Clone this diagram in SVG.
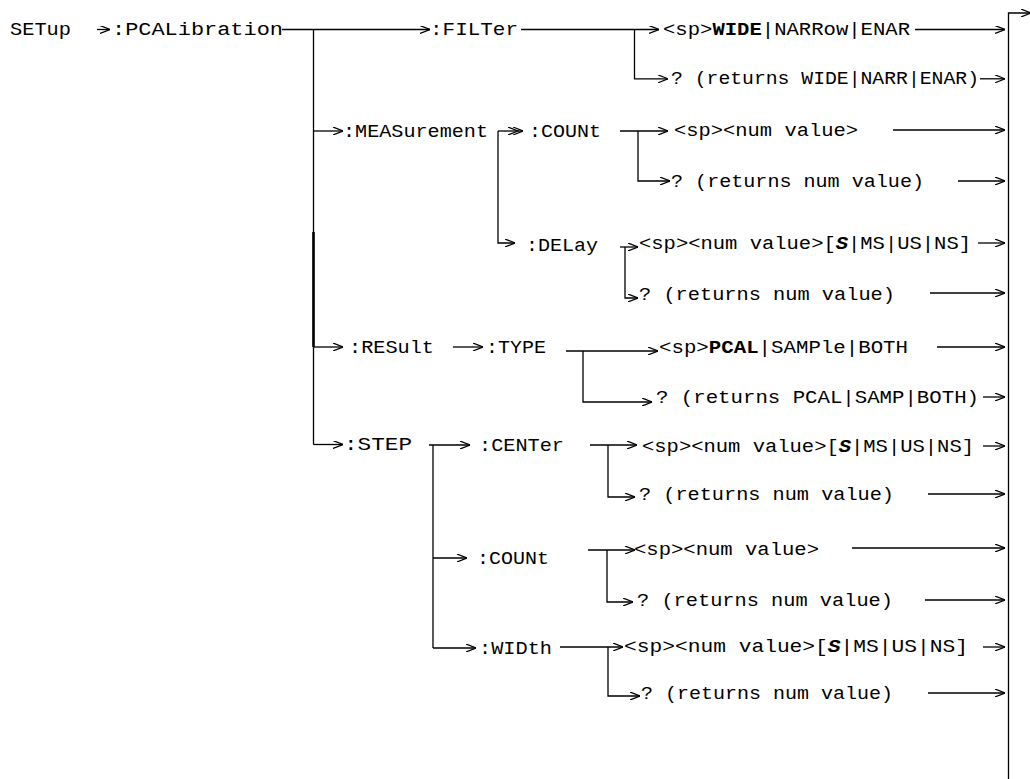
<svg xmlns="http://www.w3.org/2000/svg" width="1030" height="779" viewBox="0 0 1030 779">
<style>
text{font-family:"Courier New","Liberation Mono",monospace;font-size:18px;fill:#000}
.b{font-weight:bold}
.bi{font-weight:bold;font-style:italic}
.c line,.c path{stroke:#000;stroke-width:1.3;fill:none}
.a{marker-end:url(#ah)}
.d{marker-end:url(#dh)}
</style>
<defs>
<marker id="ah" viewBox="0 0 10 8" refX="10" refY="4" markerWidth="10" markerHeight="8" markerUnits="userSpaceOnUse" orient="auto">
<path d="M0,0 L10,4 L0,8" fill="none" stroke="#000" stroke-width="1.2"/>
</marker>
<marker id="dh" viewBox="0 0 15 8" refX="15" refY="4" markerWidth="15" markerHeight="8" markerUnits="userSpaceOnUse" orient="auto">
<path d="M0,0 L10,4 L0,8 M5,0 L15,4 L5,8" fill="none" stroke="#000" stroke-width="1.2"/>
</marker>
</defs>
<rect width="1030" height="779" fill="#fff"/>
<g class="c" id="connectors">
<line class="a" x1="97" y1="29.5" x2="110" y2="29.5"/>
<line class="a" x1="282" y1="29.5" x2="430" y2="29.5"/>
<line x1="313.5" y1="29.5" x2="313.5" y2="444.5"/>
<line x1="313.5" y1="232" x2="313.5" y2="347" style="stroke-width:2.6"/>
<line class="a" x1="313.5" y1="131" x2="343" y2="131"/>
<line class="a" x1="313.5" y1="347" x2="343" y2="347"/>
<line class="a" x1="313.5" y1="444.5" x2="343" y2="444.5"/>
<line class="a" x1="521" y1="29.5" x2="659" y2="29.5"/>
<path class="a" d="M634.5,29.5 V78.8 H668"/>
<line class="a" x1="915" y1="29.5" x2="1005" y2="29.5"/>
<line class="a" x1="980" y1="78.8" x2="1005" y2="78.8"/>
<line class="d" x1="498" y1="131" x2="523" y2="131"/>
<path class="a" d="M498,131 V243 H515"/>
<line class="a" x1="620" y1="131" x2="668" y2="131"/>
<path class="a" d="M638,131 V181 H670"/>
<line class="a" x1="893" y1="130" x2="1005" y2="130"/>
<line class="a" x1="958" y1="181" x2="1005" y2="181"/>
<line class="a" x1="620" y1="247" x2="638" y2="247"/>
<path class="a" d="M625,247 V298 H638"/>
<line class="a" x1="978" y1="243" x2="1005" y2="243"/>
<line class="a" x1="930" y1="293" x2="1005" y2="293"/>
<line class="a" x1="453" y1="347" x2="483" y2="347"/>
<line class="a" x1="566" y1="351" x2="658" y2="351"/>
<path class="a" d="M583,351 V402 H652"/>
<line class="a" x1="937" y1="347" x2="1005" y2="347"/>
<line class="a" x1="983" y1="397" x2="1005" y2="397"/>
<line class="a" x1="429" y1="445" x2="470" y2="445"/>
<line x1="433" y1="445" x2="433" y2="648"/>
<line class="a" x1="433" y1="558" x2="467" y2="558"/>
<line class="a" x1="433" y1="648" x2="476" y2="648"/>
<line class="a" x1="590" y1="445" x2="637" y2="445"/>
<path class="a" d="M608,445 V497 H635"/>
<line class="a" x1="983" y1="446" x2="1005" y2="446"/>
<line class="a" x1="928" y1="494" x2="1005" y2="494"/>
<line class="a" x1="588" y1="550" x2="635" y2="550"/>
<path class="a" d="M607,550 V602 H633"/>
<line class="a" x1="852" y1="548" x2="1005" y2="548"/>
<line class="a" x1="925" y1="600" x2="1005" y2="600"/>
<line class="a" x1="560" y1="647" x2="623" y2="647"/>
<path class="a" d="M608,647 V696 H640"/>
<line class="a" x1="983" y1="647" x2="1005" y2="647"/>
<line class="a" x1="928" y1="693" x2="1005" y2="693"/>
<path class="a" d="M1008.5,779 V13 H1031"/>
</g>
<g id="n-setup"><text x="10" y="35" textLength="61" lengthAdjust="spacingAndGlyphs">SETup</text></g>
<g id="n-pcal"><text x="112" y="35" textLength="171" lengthAdjust="spacingAndGlyphs">:PCALibration</text></g>
<g id="n-filter"><text x="430" y="35" textLength="88" lengthAdjust="spacingAndGlyphs">:FILTer</text></g>
<g id="n-filter-set"><text x="663" y="35" textLength="247" lengthAdjust="spacingAndGlyphs">&lt;sp&gt;<tspan class="b">WIDE</tspan>|NARRow|ENAR</text></g>
<g id="n-filter-q"><text x="671" y="84" textLength="308" lengthAdjust="spacingAndGlyphs">? (returns WIDE|NARR|ENAR)</text></g>
<g id="n-meas"><text x="343" y="137" textLength="145" lengthAdjust="spacingAndGlyphs">:MEASurement</text></g>
<g id="n-meas-count"><text x="529" y="137" textLength="72" lengthAdjust="spacingAndGlyphs">:COUNt</text></g>
<g id="n-meas-count-set"><text x="674" y="136" textLength="184" lengthAdjust="spacingAndGlyphs">&lt;sp&gt;&lt;num value&gt;</text></g>
<g id="n-meas-count-q"><text x="671" y="187" textLength="253" lengthAdjust="spacingAndGlyphs">? (returns num value)</text></g>
<g id="n-meas-delay"><text x="526" y="251" textLength="72" lengthAdjust="spacingAndGlyphs">:DELay</text></g>
<g id="n-meas-delay-set"><text x="639" y="249" textLength="332" lengthAdjust="spacingAndGlyphs">&lt;sp&gt;&lt;num value&gt;[<tspan class="bi">S</tspan>|MS|US|NS]</text></g>
<g id="n-meas-delay-q"><text x="639" y="300" textLength="256" lengthAdjust="spacingAndGlyphs">? (returns num value)</text></g>
<g id="n-result"><text x="349" y="353" textLength="85" lengthAdjust="spacingAndGlyphs">:RESult</text></g>
<g id="n-type"><text x="486" y="353" textLength="60" lengthAdjust="spacingAndGlyphs">:TYPE</text></g>
<g id="n-type-set"><text x="659" y="353" textLength="249" lengthAdjust="spacingAndGlyphs">&lt;sp&gt;<tspan class="b">PCAL</tspan>|SAMPle|BOTH</text></g>
<g id="n-type-q"><text x="656" y="403" textLength="323" lengthAdjust="spacingAndGlyphs">? (returns PCAL|SAMP|BOTH)</text></g>
<g id="n-step"><text x="344" y="450" textLength="68" lengthAdjust="spacingAndGlyphs">:STEP</text></g>
<g id="n-center"><text x="479" y="451" textLength="85" lengthAdjust="spacingAndGlyphs">:CENTer</text></g>
<g id="n-center-set"><text x="642" y="452" textLength="332" lengthAdjust="spacingAndGlyphs">&lt;sp&gt;&lt;num value&gt;[<tspan class="bi">S</tspan>|MS|US|NS]</text></g>
<g id="n-center-q"><text x="639" y="500" textLength="255" lengthAdjust="spacingAndGlyphs">? (returns num value)</text></g>
<g id="n-step-count"><text x="477" y="564" textLength="72" lengthAdjust="spacingAndGlyphs">:COUNt</text></g>
<g id="n-step-count-set"><text x="634" y="555" textLength="185" lengthAdjust="spacingAndGlyphs">&lt;sp&gt;&lt;num value&gt;</text></g>
<g id="n-step-count-q"><text x="637" y="606" textLength="256" lengthAdjust="spacingAndGlyphs">? (returns num value)</text></g>
<g id="n-width"><text x="479" y="654" textLength="73" lengthAdjust="spacingAndGlyphs">:WIDth</text></g>
<g id="n-width-set"><text x="624" y="652" textLength="344" lengthAdjust="spacingAndGlyphs">&lt;sp&gt;&lt;num value&gt;[<tspan class="bi">S</tspan>|MS|US|NS]</text></g>
<g id="n-width-q"><text x="641" y="699" textLength="252" lengthAdjust="spacingAndGlyphs">? (returns num value)</text></g>
</svg>
